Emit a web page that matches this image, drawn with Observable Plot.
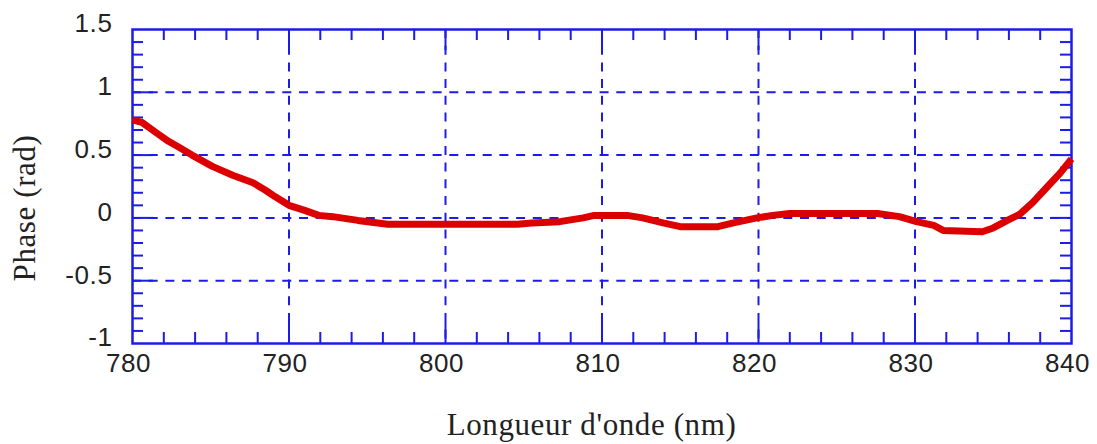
<!DOCTYPE html>
<html>
<head>
<meta charset="utf-8">
<script src="https://cdn.jsdelivr.net/npm/d3@7"></script>
<script src="https://cdn.jsdelivr.net/npm/@observablehq/plot@0.6"></script>
<style>
  html, body { margin: 0; padding: 0; background: #fff; }
  #chart { width: 1097px; height: 444px; }
</style>
</head>
<body>
<div id="chart"></div>
<script>
// Wavelength (nm) and phase (rad)
const wavelength = [780, 780.6, 781.5, 782.3, 783, 783.8, 785.1, 786.4, 787.7, 788.5, 789.1, 790, 791.0, 791.9, 792.8, 794.4, 796.3, 800, 804.6, 805.5, 807.3, 808.8, 809.5, 811.6, 812.6, 813.9, 815, 817.4, 818.4, 819.9, 820.9, 822, 827.6, 829.0, 830.1, 831.2, 831.8, 834.3, 835.0, 835.9, 836.7, 837.5, 838.4, 839.3, 840];
const phase = [0.78, 0.76, 0.68, 0.61, 0.56, 0.50, 0.41, 0.34, 0.28, 0.22, 0.17, 0.10, 0.06, 0.02, 0.01, -0.02, -0.05, -0.05, -0.05, -0.04, -0.03, 0.0, 0.02, 0.02, 0.0, -0.04, -0.07, -0.07, -0.04, 0.0, 0.02, 0.035, 0.035, 0.01, -0.03, -0.06, -0.10, -0.11, -0.08, -0.02, 0.03, 0.12, 0.24, 0.36, 0.47];

const xTicks = [780, 790, 800, 810, 820, 830, 840];
const xTickLabels = ["780", "790", "800", "810", "820", "830", "840"];
const yTicks = [-1, -0.5, 0, 0.5, 1, 1.5];
const yTickLabels = ["-1", "-0.5", "0", "0.5", "1", "1.5"];
const xMinor = d3.range(782, 840, 2).filter(v => v % 10 !== 0);
const yMinor = d3.range(-9, 15).map(v => v / 10).filter(v => Math.abs(v * 2 - Math.round(v * 2)) > 1e-9);
const xGrid = [790, 800, 810, 820, 830];
const yGrid = [-0.5, 0, 0.5, 1];

const xTitle = "Longueur d'onde (nm)";
const yTitle = "Phase (rad)";

const data = wavelength.map((w, i) => ({w, p: phase[i]}));

const blue = "#1c1ce6";
const red = "#dd0000";
const H = 444, mt = 29, mb = 101;
const innerH = H - mt - mb;
const W = 1097, ml = 132, mr = 26;
const innerW = W - ml - mr;
const minorLen = 11, majorLen = 21;

const chart = Plot.plot({
  width: W,
  height: H,
  marginLeft: ml,
  marginRight: mr,
  marginTop: mt,
  marginBottom: mb,
  x: {domain: [780, 840], axis: null},
  y: {domain: [-1, 1.5], axis: null},
  style: {fontFamily: "'Liberation Sans', Arial, sans-serif", fontSize: "26px", color: "#222", background: "#fff", letterSpacing: "0.6px"},
  marks: [
    // dashed grid
    Plot.ruleX(xGrid, {stroke: blue, strokeWidth: 2, strokeDasharray: "9,7.7"}),
    Plot.ruleY(yGrid, {stroke: blue, strokeWidth: 2, strokeDasharray: "9,7.7"}),
    // minor ticks (inward, all four sides)
    Plot.ruleX(xMinor, {stroke: blue, strokeWidth: 2, insetTop: innerH - minorLen}),
    Plot.ruleX(xMinor, {stroke: blue, strokeWidth: 2, insetBottom: innerH - minorLen}),
    Plot.ruleY(yMinor, {stroke: blue, strokeWidth: 2, insetRight: innerW - minorLen}),
    Plot.ruleY(yMinor, {stroke: blue, strokeWidth: 2, insetLeft: innerW - minorLen}),
    // major ticks
    Plot.ruleX(xGrid, {stroke: blue, strokeWidth: 2, insetTop: innerH - majorLen}),
    Plot.ruleX(xGrid, {stroke: blue, strokeWidth: 2, insetBottom: innerH - majorLen}),
    Plot.ruleY(yGrid, {stroke: blue, strokeWidth: 2, insetRight: innerW - majorLen}),
    Plot.ruleY(yGrid, {stroke: blue, strokeWidth: 2, insetLeft: innerW - majorLen}),
    Plot.frame({stroke: blue, strokeWidth: 2.5}),
    // tick labels
    Plot.text(xTicks, {x: d => d, text: (d, i) => xTickLabels[i], frameAnchor: "bottom", lineAnchor: "top", dy: 10, dx: -4, fill: "#222"}),
    Plot.text(yTicks, {y: d => d, text: (d, i) => yTickLabels[i], frameAnchor: "left", textAnchor: "end", lineAnchor: "middle", dx: -20, dy: -5.5, fill: "#222"}),
    // data line
    Plot.line(data, {x: "w", y: "p", stroke: red, strokeWidth: 7, strokeLinejoin: "round", strokeLinecap: "butt"})
  ]
});

const svg = d3.select(chart);
svg.append("text")
  .attr("x", 591.5).attr("y", 435)
  .attr("text-anchor", "middle")
  .attr("font-family", "'Liberation Serif', 'Times New Roman', serif")
  .attr("font-size", 31)
  .attr("letter-spacing", "0.6px")
  .attr("fill", "#222")
  .text(xTitle);
svg.append("text")
  .attr("transform", "translate(35,208) rotate(-90)")
  .attr("text-anchor", "middle")
  .attr("font-family", "'Liberation Serif', 'Times New Roman', serif")
  .attr("font-size", 31)
  .attr("letter-spacing", "0.6px")
  .attr("fill", "#222")
  .text(yTitle);

document.getElementById("chart").appendChild(chart);
</script>
</body>
</html>
